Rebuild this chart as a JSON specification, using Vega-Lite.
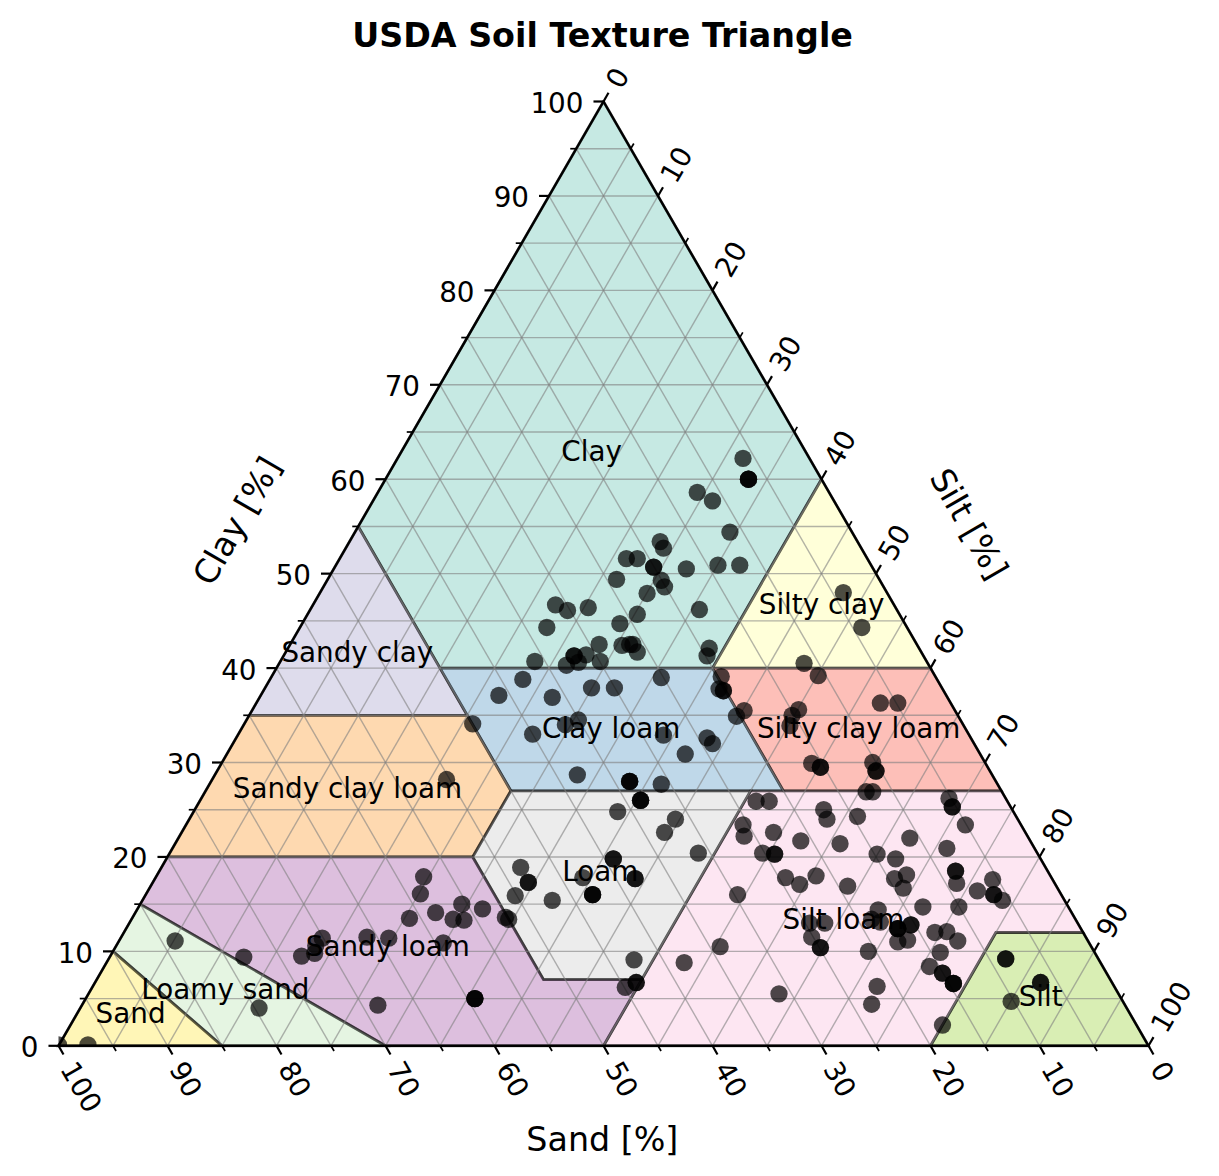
{
  "$schema": "https://vega.github.io/schema/vega-lite/v6.json",
  "autosize": {"type": "none"},
  "padding": {"left": 58.5, "top": 101.5, "right": 70.5, "bottom": 130.2},
  "width": 1090,
  "height": 944.3,
  "background": "white",
  "title": {"text": "USDA Soil Texture Triangle", "font": "DejaVu Sans", "fontSize": 33.3, "fontWeight": "bold", "color": "black", "anchor": "middle", "offset": 10, "dx": -1},
  "config": {"view": {"stroke": null}, "font": "DejaVu Sans"},
  "datasets": {
    "regions": [
      {"region":"Clay","i":0,"x":50,"y":100},{"region":"Clay","i":1,"x":27.5,"y":55},{"region":"Clay","i":2,"x":35,"y":40},{"region":"Clay","i":3,"x":60,"y":40},{"region":"Clay","i":4,"x":70,"y":60},{"region":"Clay","i":5,"x":50,"y":100},
      {"region":"Silty clay","i":0,"x":60,"y":40},{"region":"Silty clay","i":1,"x":70,"y":60},{"region":"Silty clay","i":2,"x":80,"y":40},{"region":"Silty clay","i":3,"x":60,"y":40},
      {"region":"Sandy clay","i":0,"x":27.5,"y":55},{"region":"Sandy clay","i":1,"x":35,"y":40},{"region":"Sandy clay","i":2,"x":37.5,"y":35},{"region":"Sandy clay","i":3,"x":17.5,"y":35},{"region":"Sandy clay","i":4,"x":27.5,"y":55},
      {"region":"Silty clay loam","i":0,"x":60,"y":40},{"region":"Silty clay loam","i":1,"x":80,"y":40},{"region":"Silty clay loam","i":2,"x":86.5,"y":27},{"region":"Silty clay loam","i":3,"x":66.5,"y":27},{"region":"Silty clay loam","i":4,"x":60,"y":40},
      {"region":"Clay loam","i":0,"x":35,"y":40},{"region":"Clay loam","i":1,"x":60,"y":40},{"region":"Clay loam","i":2,"x":66.5,"y":27},{"region":"Clay loam","i":3,"x":41.5,"y":27},{"region":"Clay loam","i":4,"x":37.5,"y":35},{"region":"Clay loam","i":5,"x":35,"y":40},
      {"region":"Sandy clay loam","i":0,"x":17.5,"y":35},{"region":"Sandy clay loam","i":1,"x":37.5,"y":35},{"region":"Sandy clay loam","i":2,"x":41.5,"y":27},{"region":"Sandy clay loam","i":3,"x":38,"y":20},{"region":"Sandy clay loam","i":4,"x":10,"y":20},{"region":"Sandy clay loam","i":5,"x":17.5,"y":35},
      {"region":"Silt","i":0,"x":80,"y":0},{"region":"Silt","i":1,"x":86,"y":12},{"region":"Silt","i":2,"x":94,"y":12},{"region":"Silt","i":3,"x":100,"y":0},{"region":"Silt","i":4,"x":80,"y":0},
      {"region":"Silt loam","i":0,"x":50,"y":0},{"region":"Silt loam","i":1,"x":53.5,"y":7},{"region":"Silt loam","i":2,"x":63.5,"y":27},{"region":"Silt loam","i":3,"x":86.5,"y":27},{"region":"Silt loam","i":4,"x":94,"y":12},{"region":"Silt loam","i":5,"x":86,"y":12},{"region":"Silt loam","i":6,"x":80,"y":0},{"region":"Silt loam","i":7,"x":50,"y":0},
      {"region":"Loam","i":0,"x":38,"y":20},{"region":"Loam","i":1,"x":41.5,"y":27},{"region":"Loam","i":2,"x":63.5,"y":27},{"region":"Loam","i":3,"x":53.5,"y":7},{"region":"Loam","i":4,"x":44.5,"y":7},{"region":"Loam","i":5,"x":38,"y":20},
      {"region":"Sandy loam","i":0,"x":10,"y":20},{"region":"Sandy loam","i":1,"x":38,"y":20},{"region":"Sandy loam","i":2,"x":44.5,"y":7},{"region":"Sandy loam","i":3,"x":53.5,"y":7},{"region":"Sandy loam","i":4,"x":50,"y":0},{"region":"Sandy loam","i":5,"x":30,"y":0},{"region":"Sandy loam","i":6,"x":7.5,"y":15},{"region":"Sandy loam","i":7,"x":10,"y":20},
      {"region":"Loamy sand","i":0,"x":7.5,"y":15},{"region":"Loamy sand","i":1,"x":30,"y":0},{"region":"Loamy sand","i":2,"x":15,"y":0},{"region":"Loamy sand","i":3,"x":5,"y":10},{"region":"Loamy sand","i":4,"x":7.5,"y":15},
      {"region":"Sand","i":0,"x":5,"y":10},{"region":"Sand","i":1,"x":15,"y":0},{"region":"Sand","i":2,"x":0,"y":0},{"region":"Sand","i":3,"x":5,"y":10}
    ],
    "grid": [
      {"x":2.5,"y":5,"x2":97.5,"y2":5},{"x":5,"y":10,"x2":95,"y2":10},{"x":7.5,"y":15,"x2":92.5,"y2":15},{"x":10,"y":20,"x2":90,"y2":20},{"x":12.5,"y":25,"x2":87.5,"y2":25},{"x":15,"y":30,"x2":85,"y2":30},{"x":17.5,"y":35,"x2":82.5,"y2":35},{"x":20,"y":40,"x2":80,"y2":40},{"x":22.5,"y":45,"x2":77.5,"y2":45},{"x":25,"y":50,"x2":75,"y2":50},{"x":27.5,"y":55,"x2":72.5,"y2":55},{"x":30,"y":60,"x2":70,"y2":60},{"x":32.5,"y":65,"x2":67.5,"y2":65},{"x":35,"y":70,"x2":65,"y2":70},{"x":37.5,"y":75,"x2":62.5,"y2":75},{"x":40,"y":80,"x2":60,"y2":80},{"x":42.5,"y":85,"x2":57.5,"y2":85},{"x":45,"y":90,"x2":55,"y2":90},{"x":47.5,"y":95,"x2":52.5,"y2":95},
      {"x":5,"y":0,"x2":2.5,"y2":5},{"x":10,"y":0,"x2":5,"y2":10},{"x":15,"y":0,"x2":7.5,"y2":15},{"x":20,"y":0,"x2":10,"y2":20},{"x":25,"y":0,"x2":12.5,"y2":25},{"x":30,"y":0,"x2":15,"y2":30},{"x":35,"y":0,"x2":17.5,"y2":35},{"x":40,"y":0,"x2":20,"y2":40},{"x":45,"y":0,"x2":22.5,"y2":45},{"x":50,"y":0,"x2":25,"y2":50},{"x":55,"y":0,"x2":27.5,"y2":55},{"x":60,"y":0,"x2":30,"y2":60},{"x":65,"y":0,"x2":32.5,"y2":65},{"x":70,"y":0,"x2":35,"y2":70},{"x":75,"y":0,"x2":37.5,"y2":75},{"x":80,"y":0,"x2":40,"y2":80},{"x":85,"y":0,"x2":42.5,"y2":85},{"x":90,"y":0,"x2":45,"y2":90},{"x":95,"y":0,"x2":47.5,"y2":95},
      {"x":5,"y":0,"x2":52.5,"y2":95},{"x":10,"y":0,"x2":55,"y2":90},{"x":15,"y":0,"x2":57.5,"y2":85},{"x":20,"y":0,"x2":60,"y2":80},{"x":25,"y":0,"x2":62.5,"y2":75},{"x":30,"y":0,"x2":65,"y2":70},{"x":35,"y":0,"x2":67.5,"y2":65},{"x":40,"y":0,"x2":70,"y2":60},{"x":45,"y":0,"x2":72.5,"y2":55},{"x":50,"y":0,"x2":75,"y2":50},{"x":55,"y":0,"x2":77.5,"y2":45},{"x":60,"y":0,"x2":80,"y2":40},{"x":65,"y":0,"x2":82.5,"y2":35},{"x":70,"y":0,"x2":85,"y2":30},{"x":75,"y":0,"x2":87.5,"y2":25},{"x":80,"y":0,"x2":90,"y2":20},{"x":85,"y":0,"x2":92.5,"y2":15},{"x":90,"y":0,"x2":95,"y2":10},{"x":95,"y":0,"x2":97.5,"y2":5}
    ],
    "ticks": [
      {"kind":"major","x":0,"y":0,"x2":-0.92,"y2":0},{"kind":"minor","x":2.5,"y":5,"x2":1.95,"y2":5},{"kind":"major","x":5,"y":10,"x2":4.08,"y2":10},{"kind":"minor","x":7.5,"y":15,"x2":6.95,"y2":15},{"kind":"major","x":10,"y":20,"x2":9.08,"y2":20},{"kind":"minor","x":12.5,"y":25,"x2":11.95,"y2":25},{"kind":"major","x":15,"y":30,"x2":14.08,"y2":30},{"kind":"minor","x":17.5,"y":35,"x2":16.95,"y2":35},{"kind":"major","x":20,"y":40,"x2":19.08,"y2":40},{"kind":"minor","x":22.5,"y":45,"x2":21.95,"y2":45},{"kind":"major","x":25,"y":50,"x2":24.08,"y2":50},{"kind":"minor","x":27.5,"y":55,"x2":26.95,"y2":55},{"kind":"major","x":30,"y":60,"x2":29.08,"y2":60},{"kind":"minor","x":32.5,"y":65,"x2":31.95,"y2":65},{"kind":"major","x":35,"y":70,"x2":34.08,"y2":70},{"kind":"minor","x":37.5,"y":75,"x2":36.95,"y2":75},{"kind":"major","x":40,"y":80,"x2":39.08,"y2":80},{"kind":"minor","x":42.5,"y":85,"x2":41.95,"y2":85},{"kind":"major","x":45,"y":90,"x2":44.08,"y2":90},{"kind":"minor","x":47.5,"y":95,"x2":46.95,"y2":95},{"kind":"major","x":50,"y":100,"x2":49.08,"y2":100},
      {"kind":"major","x":50,"y":100,"x2":50.46,"y2":100.92},{"kind":"minor","x":52.5,"y":95,"x2":52.78,"y2":95.55},{"kind":"major","x":55,"y":90,"x2":55.46,"y2":90.92},{"kind":"minor","x":57.5,"y":85,"x2":57.78,"y2":85.55},{"kind":"major","x":60,"y":80,"x2":60.46,"y2":80.92},{"kind":"minor","x":62.5,"y":75,"x2":62.78,"y2":75.55},{"kind":"major","x":65,"y":70,"x2":65.46,"y2":70.92},{"kind":"minor","x":67.5,"y":65,"x2":67.78,"y2":65.55},{"kind":"major","x":70,"y":60,"x2":70.46,"y2":60.92},{"kind":"minor","x":72.5,"y":55,"x2":72.78,"y2":55.55},{"kind":"major","x":75,"y":50,"x2":75.46,"y2":50.92},{"kind":"minor","x":77.5,"y":45,"x2":77.78,"y2":45.55},{"kind":"major","x":80,"y":40,"x2":80.46,"y2":40.92},{"kind":"minor","x":82.5,"y":35,"x2":82.78,"y2":35.55},{"kind":"major","x":85,"y":30,"x2":85.46,"y2":30.92},{"kind":"minor","x":87.5,"y":25,"x2":87.78,"y2":25.55},{"kind":"major","x":90,"y":20,"x2":90.46,"y2":20.92},{"kind":"minor","x":92.5,"y":15,"x2":92.78,"y2":15.55},{"kind":"major","x":95,"y":10,"x2":95.46,"y2":10.92},{"kind":"minor","x":97.5,"y":5,"x2":97.78,"y2":5.55},{"kind":"major","x":100,"y":0,"x2":100.46,"y2":0.92},
      {"kind":"major","x":0,"y":0,"x2":0.46,"y2":-0.92},{"kind":"minor","x":5,"y":0,"x2":5.28,"y2":-0.55},{"kind":"major","x":10,"y":0,"x2":10.46,"y2":-0.92},{"kind":"minor","x":15,"y":0,"x2":15.28,"y2":-0.55},{"kind":"major","x":20,"y":0,"x2":20.46,"y2":-0.92},{"kind":"minor","x":25,"y":0,"x2":25.28,"y2":-0.55},{"kind":"major","x":30,"y":0,"x2":30.46,"y2":-0.92},{"kind":"minor","x":35,"y":0,"x2":35.28,"y2":-0.55},{"kind":"major","x":40,"y":0,"x2":40.46,"y2":-0.92},{"kind":"minor","x":45,"y":0,"x2":45.28,"y2":-0.55},{"kind":"major","x":50,"y":0,"x2":50.46,"y2":-0.92},{"kind":"minor","x":55,"y":0,"x2":55.28,"y2":-0.55},{"kind":"major","x":60,"y":0,"x2":60.46,"y2":-0.92},{"kind":"minor","x":65,"y":0,"x2":65.28,"y2":-0.55},{"kind":"major","x":70,"y":0,"x2":70.46,"y2":-0.92},{"kind":"minor","x":75,"y":0,"x2":75.28,"y2":-0.55},{"kind":"major","x":80,"y":0,"x2":80.46,"y2":-0.92},{"kind":"minor","x":85,"y":0,"x2":85.28,"y2":-0.55},{"kind":"major","x":90,"y":0,"x2":90.46,"y2":-0.92},{"kind":"minor","x":95,"y":0,"x2":95.28,"y2":-0.55},{"kind":"major","x":100,"y":0,"x2":100.46,"y2":-0.92}
    ],
    "frame": [
      {"x":0,"y":0,"x2":100,"y2":0},{"x":0,"y":0,"x2":50,"y2":100},{"x":100,"y":0,"x2":50,"y2":100}
    ],
    "clayLabels": [
      {"x":0,"y":0,"label":"0"},{"x":5,"y":10,"label":"10"},{"x":10,"y":20,"label":"20"},{"x":15,"y":30,"label":"30"},{"x":20,"y":40,"label":"40"},{"x":25,"y":50,"label":"50"},{"x":30,"y":60,"label":"60"},{"x":35,"y":70,"label":"70"},{"x":40,"y":80,"label":"80"},{"x":45,"y":90,"label":"90"},{"x":50,"y":100,"label":"100"}
    ],
    "siltLabels": [
      {"x":50,"y":100,"label":"0"},{"x":55,"y":90,"label":"10"},{"x":60,"y":80,"label":"20"},{"x":65,"y":70,"label":"30"},{"x":70,"y":60,"label":"40"},{"x":75,"y":50,"label":"50"},{"x":80,"y":40,"label":"60"},{"x":85,"y":30,"label":"70"},{"x":90,"y":20,"label":"80"},{"x":95,"y":10,"label":"90"},{"x":100,"y":0,"label":"100"}
    ],
    "sandLabels": [
      {"x":0,"y":0,"label":"100"},{"x":10,"y":0,"label":"90"},{"x":20,"y":0,"label":"80"},{"x":30,"y":0,"label":"70"},{"x":40,"y":0,"label":"60"},{"x":50,"y":0,"label":"50"},{"x":60,"y":0,"label":"40"},{"x":70,"y":0,"label":"30"},{"x":80,"y":0,"label":"20"},{"x":90,"y":0,"label":"10"},{"x":100,"y":0,"label":"0"}
    ],
    "regionLabels": [
      {"x":48.8,"y":62.9,"label":"Clay"},{"x":27.3,"y":41.6,"label":"Sandy clay"},{"x":69.9,"y":46.7,"label":"Silty clay"},{"x":73.3,"y":33.5,"label":"Silty clay loam"},{"x":50.6,"y":33.5,"label":"Clay loam"},{"x":26.4,"y":27.2,"label":"Sandy clay loam"},{"x":49.6,"y":18.4,"label":"Loam"},{"x":71.9,"y":13.3,"label":"Silt loam"},{"x":30.1,"y":10.5,"label":"Sandy loam"},{"x":15.2,"y":5.9,"label":"Loamy sand"},{"x":6.5,"y":3.4,"label":"Sand"},{"x":90,"y":5.2,"label":"Silt"}
    ],
    "samples": [
      {"x":62.8,"y":62.2},{"x":63.3,"y":60.0},{"x":63.3,"y":60.0},{"x":63.3,"y":60.0},{"x":58.6,"y":58.6},{"x":60.0,"y":57.7},{"x":61.6,"y":54.4},{"x":55.2,"y":53.4},{"x":55.5,"y":52.7},{"x":52.1,"y":51.6},{"x":53.1,"y":51.6},{"x":54.6,"y":50.7},{"x":54.6,"y":50.7},{"x":57.6,"y":50.5},{"x":60.5,"y":50.9},{"x":62.5,"y":50.9},{"x":51.2,"y":49.4},{"x":55.3,"y":49.3},{"x":55.6,"y":48.6},{"x":54.0,"y":47.9},{"x":45.6,"y":46.7},{"x":46.7,"y":46.1},{"x":48.6,"y":46.4},{"x":58.8,"y":46.2},{"x":44.8,"y":44.3},{"x":53.1,"y":45.7},{"x":51.5,"y":44.7},{"x":49.6,"y":42.5},{"x":59.7,"y":42.1},{"x":59.5,"y":41.3},{"x":51.7,"y":42.4},{"x":52.4,"y":42.5},{"x":52.7,"y":42.5},{"x":53.1,"y":41.7},{"x":48.4,"y":41.4},{"x":47.3,"y":41.3},{"x":47.3,"y":41.3},{"x":47.7,"y":40.6},{"x":46.6,"y":40.3},{"x":49.7,"y":40.7},{"x":43.7,"y":40.7},{"x":42.6,"y":38.8},{"x":40.4,"y":37.1},{"x":45.3,"y":36.9},{"x":48.9,"y":37.9},{"x":51.0,"y":37.9},{"x":55.3,"y":39.0},{"x":60.8,"y":39.1},{"x":60.6,"y":37.8},{"x":61.0,"y":37.6},{"x":61.0,"y":37.6},{"x":62.9,"y":35.5},{"x":62.2,"y":34.9},{"x":38.0,"y":34.1},{"x":47.7,"y":34.5},{"x":46.5,"y":34.0},{"x":43.5,"y":33.0},{"x":55.5,"y":32.9},{"x":59.5,"y":32.6},{"x":60.0,"y":32.0},{"x":57.5,"y":30.9},{"x":47.6,"y":28.7},{"x":52.4,"y":28.0},{"x":52.4,"y":28.0},{"x":52.4,"y":28.0},{"x":55.3,"y":27.7},{"x":53.4,"y":26.0},{"x":53.4,"y":26.0},{"x":53.4,"y":26.0},{"x":51.3,"y":24.8},{"x":56.6,"y":24.0},{"x":55.6,"y":22.6},{"x":58.7,"y":20.4},{"x":35.6,"y":28.2},{"x":50.9,"y":19.8},{"x":50.9,"y":19.8},{"x":42.4,"y":18.9},{"x":43.1,"y":17.3},{"x":43.1,"y":17.3},{"x":52.9,"y":17.7},{"x":52.9,"y":17.7},{"x":33.5,"y":17.9},{"x":33.2,"y":16.1},{"x":32.2,"y":13.5},{"x":34.6,"y":14.1},{"x":36.2,"y":13.4},{"x":37.0,"y":15.0},{"x":37.2,"y":13.3},{"x":38.9,"y":14.5},{"x":35.3,"y":10.9},{"x":41.0,"y":13.6},{"x":41.3,"y":13.4},{"x":41.9,"y":15.9},{"x":45.3,"y":15.4},{"x":48.1,"y":17.8},{"x":49.0,"y":16.0},{"x":49.0,"y":16.0},{"x":49.0,"y":16.0},{"x":52.8,"y":9.1},{"x":57.4,"y":8.8},{"x":52.0,"y":6.2},{"x":53.0,"y":6.7},{"x":53.0,"y":6.7},{"x":38.2,"y":5.0},{"x":38.2,"y":5.0},{"x":38.2,"y":5.0},{"x":60.7,"y":10.5},{"x":10.7,"y":11.1},{"x":17.0,"y":9.4},{"x":22.3,"y":9.5},{"x":23.5,"y":9.8},{"x":24.2,"y":11.4},{"x":23.6,"y":10.6},{"x":28.3,"y":11.5},{"x":30.3,"y":11.4},{"x":29.3,"y":4.3},{"x":18.4,"y":4.0},{"x":2.7,"y":0.1},{"x":0,"y":0.1},{"x":72.0,"y":48.0},{"x":73.7,"y":44.3},{"x":68.4,"y":40.5},{"x":69.7,"y":39.2},{"x":75.4,"y":36.3},{"x":77.0,"y":36.3},{"x":67.9,"y":35.6},{"x":67.3,"y":35.0},{"x":67.1,"y":33.9},{"x":69.1,"y":29.9},{"x":69.9,"y":29.5},{"x":69.9,"y":29.5},{"x":74.7,"y":30.0},{"x":75.0,"y":29.1},{"x":75.0,"y":29.1},{"x":74.1,"y":26.9},{"x":74.7,"y":26.9},{"x":64.0,"y":25.9},{"x":65.2,"y":25.9},{"x":81.7,"y":26.2},{"x":82.0,"y":25.3},{"x":82.0,"y":25.3},{"x":70.2,"y":25.0},{"x":70.5,"y":24.0},{"x":73.3,"y":24.3},{"x":83.2,"y":23.4},{"x":62.8,"y":23.4},{"x":62.9,"y":22.2},{"x":65.6,"y":22.6},{"x":68.1,"y":21.7},{"x":71.7,"y":21.4},{"x":78.1,"y":22.0},{"x":81.5,"y":20.9},{"x":64.6,"y":20.4},{"x":65.7,"y":20.3},{"x":65.7,"y":20.3},{"x":75.1,"y":20.3},{"x":76.8,"y":19.8},{"x":82.3,"y":18.5},{"x":82.3,"y":18.5},{"x":66.7,"y":17.8},{"x":68.0,"y":17.1},{"x":69.5,"y":18.0},{"x":72.4,"y":16.9},{"x":76.7,"y":17.7},{"x":77.8,"y":18.1},{"x":77.5,"y":16.7},{"x":82.4,"y":17.2},{"x":84.3,"y":16.4},{"x":85.7,"y":17.6},{"x":85.8,"y":16.0},{"x":85.8,"y":16.0},{"x":86.6,"y":15.4},{"x":62.3,"y":16.0},{"x":79.3,"y":14.7},{"x":82.6,"y":14.7},{"x":75.2,"y":14.4},{"x":74.6,"y":13.4},{"x":75.4,"y":13.1},{"x":68.9,"y":13.0},{"x":70.3,"y":13.0},{"x":69.1,"y":11.5},{"x":69.9,"y":10.4},{"x":69.9,"y":10.4},{"x":77.0,"y":12.4},{"x":77.0,"y":12.4},{"x":77.0,"y":12.4},{"x":78.2,"y":12.8},{"x":78.2,"y":12.8},{"x":77.0,"y":11.0},{"x":77.9,"y":11.2},{"x":80.4,"y":12.0},{"x":81.5,"y":12.1},{"x":82.5,"y":11.1},{"x":80.9,"y":9.9},{"x":74.3,"y":10.0},{"x":79.9,"y":8.4},{"x":81.1,"y":7.7},{"x":81.1,"y":7.7},{"x":82.1,"y":6.6},{"x":82.1,"y":6.6},{"x":82.1,"y":6.6},{"x":86.9,"y":9.2},{"x":86.9,"y":9.2},{"x":75.1,"y":6.3},{"x":66.1,"y":5.5},{"x":74.6,"y":4.4},{"x":81.1,"y":2.2},{"x":87.4,"y":4.7},{"x":90.1,"y":6.7},{"x":90.1,"y":6.7}
    ]
  },
  "encoding": {
    "x": {"field": "x", "type": "quantitative", "axis": null, "scale": {"domain": [0, 100], "nice": false, "zero": false}},
    "y": {"field": "y", "type": "quantitative", "axis": null, "scale": {"domain": [0, 100], "nice": false, "zero": false}}
  },
  "layer": [
    {
      "data": {"name": "regions"},
      "mark": {"type": "line", "strokeWidth": 2.8, "strokeOpacity": 0.5, "fillOpacity": 0.5, "stroke": "black", "point": false},
      "encoding": {
        "detail": {"field": "region", "type": "nominal"},
        "order": {"field": "i", "type": "quantitative"},
        "fill": {
          "field": "region",
          "type": "nominal",
          "legend": null,
          "scale": {
            "domain": ["Clay","Silty clay","Sandy clay","Silty clay loam","Clay loam","Sandy clay loam","Silt","Silt loam","Loam","Sandy loam","Loamy sand","Sand"],
            "range": ["#8dd3c7","#ffffb3","#bebada","#fb8072","#80b1d3","#fdb462","#b3de69","#fccde5","#d9d9d9","#bc80bd","#ccebc5","#ffed6f"]
          }
        }
      }
    },
    {
      "data": {"name": "grid"},
      "mark": {"type": "rule", "stroke": "#808080", "strokeOpacity": 0.6, "strokeWidth": 1.4},
      "encoding": {"x2": {"field": "x2"}, "y2": {"field": "y2"}}
    },
    {
      "data": {"name": "samples"},
      "mark": {"type": "point", "shape": "circle", "filled": true, "color": "black", "opacity": 0.7, "size": 300, "clip": true},
      "encoding": {}
    },
    {
      "data": {"name": "ticks"},
      "mark": {"type": "rule", "stroke": "black"},
      "encoding": {
        "x2": {"field": "x2"},
        "y2": {"field": "y2"},
        "strokeWidth": {"field": "kind", "type": "nominal", "legend": null, "scale": {"domain": ["major", "minor"], "range": [2.2, 1.7]}}
      }
    },
    {
      "data": {"name": "frame"},
      "mark": {"type": "rule", "stroke": "black", "strokeWidth": 2.4, "strokeCap": "round"},
      "encoding": {"x2": {"field": "x2"}, "y2": {"field": "y2"}}
    },
    {
      "data": {"name": "clayLabels"},
      "mark": {"type": "text", "font": "DejaVu Sans", "fontSize": 27.8, "color": "black", "align": "right", "baseline": "middle", "dx": -20, "dy": 3.5},
      "encoding": {"text": {"field": "label"}}
    },
    {
      "data": {"name": "siltLabels"},
      "mark": {"type": "text", "font": "DejaVu Sans", "fontSize": 27.8, "color": "black", "align": "left", "baseline": "middle", "angle": -60, "dx": 18.5, "dy": 2},
      "encoding": {"text": {"field": "label"}}
    },
    {
      "data": {"name": "sandLabels"},
      "mark": {"type": "text", "font": "DejaVu Sans", "fontSize": 27.8, "color": "black", "align": "left", "baseline": "middle", "angle": 60, "dx": 20.5, "dy": 2.6},
      "encoding": {"text": {"field": "label"}}
    },
    {
      "data": {"name": "regionLabels"},
      "mark": {"type": "text", "font": "DejaVu Sans", "fontSize": 27.8, "color": "black", "align": "center", "baseline": "middle", "dx": 1.2, "dy": 1},
      "encoding": {"text": {"field": "label"}}
    },
    {
      "data": {"values": [{"x": 16.5, "y": 55.5, "label": "Clay [%]"}]},
      "mark": {"type": "text", "font": "DejaVu Sans", "fontSize": 33.3, "color": "black", "align": "center", "baseline": "middle", "angle": -60},
      "encoding": {"text": {"field": "label"}}
    },
    {
      "data": {"values": [{"x": 83.4, "y": 55.2, "label": "Silt [%]"}]},
      "mark": {"type": "text", "font": "DejaVu Sans", "fontSize": 33.3, "color": "black", "align": "center", "baseline": "middle", "angle": 60},
      "encoding": {"text": {"field": "label"}}
    },
    {
      "data": {"values": [{"x": 49.8, "y": -9.9, "label": "Sand [%]"}]},
      "mark": {"type": "text", "font": "DejaVu Sans", "fontSize": 33.3, "color": "black", "align": "center", "baseline": "middle", "dx": 1, "dy": 2}, 
      "encoding": {"text": {"field": "label"}}
    }
  ]
}
